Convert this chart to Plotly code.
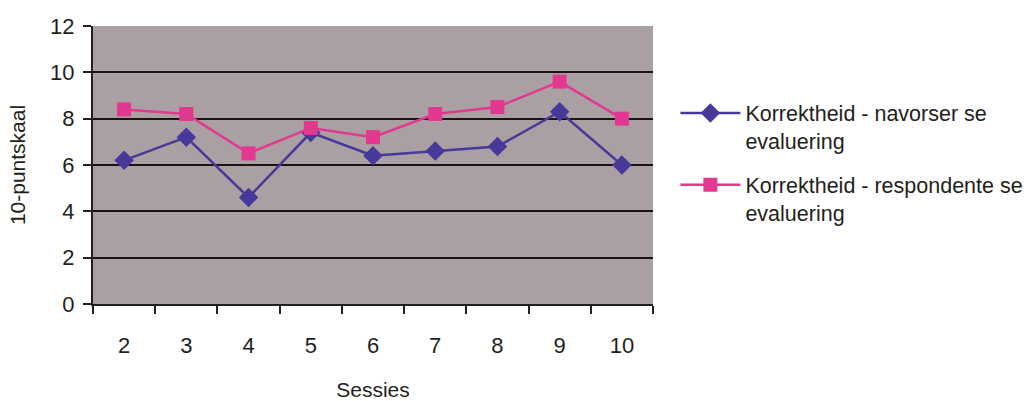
import plotly.graph_objects as go

# Sessions and mean scores on a 10-point scale
sessies = ["2", "3", "4", "5", "6", "7", "8", "9", "10"]
navorser = [6.2, 7.2, 4.6, 7.4, 6.4, 6.6, 6.8, 8.3, 6.0]
respondente = [8.4, 8.2, 6.5, 7.6, 7.2, 8.2, 8.5, 9.6, 8.0]
y_ticks = [0, 2, 4, 6, 8, 10, 12]

ink = "#231f1a"
font_family = "Liberation Sans, Arial, sans-serif"

fig = go.Figure()
fig.add_trace(go.Scatter(
    x=sessies, y=navorser, mode="lines+markers",
    name="Korrektheid - navorser se<br>evaluering",
    legendgroup="a",
    line=dict(color="#47399a", width=2.5),
    marker=dict(symbol="diamond", size=15, color="#47399a"),
))
fig.add_trace(go.Scatter(
    x=sessies, y=respondente, mode="lines+markers",
    name="Korrektheid - respondente se<br>evaluering",
    legendgroup="b",
    line=dict(color="#e2388f", width=2.5),
    marker=dict(symbol="square", size=14, color="#e2388f"),
))

fig.update_layout(
    width=1029, height=401,
    margin=dict(l=93, r=376, t=26, b=97, autoexpand=False),
    paper_bgcolor="white",
    plot_bgcolor="#aaa0a3",
    font=dict(family=font_family, size=22, color=ink),
    showlegend=True,
    legend=dict(
        x=1.04, y=0.761, xanchor="left", yanchor="top",
        valign="top", itemwidth=60, tracegroupgap=13,
        font=dict(size=21.5, color=ink), bgcolor="rgba(0,0,0,0)",
    ),
)
fig.update_xaxes(
    type="category", categoryorder="array", categoryarray=sessies,
    range=[-0.5, len(sessies) - 0.5],
    showline=True, linecolor=ink, linewidth=2, mirror=False,
    ticks="outside", tickson="boundaries", ticklen=8, tickwidth=2, tickcolor=ink,
    ticklabelstandoff=21,
    showgrid=False, zeroline=False,
    title=dict(text="Sessies", standoff=26, font=dict(size=21)),
)
fig.update_yaxes(
    range=[0, 12], tickvals=y_ticks,
    showline=True, linecolor=ink, linewidth=2,
    ticks="outside", ticklen=8, tickwidth=2, tickcolor=ink,
    ticklabelstandoff=4,
    showgrid=True, gridcolor="#1a1410", gridwidth=2, zeroline=False,
    title=dict(text="10-puntskaal", standoff=19, font=dict(size=21)),
)

fig.write_html("out.html")
